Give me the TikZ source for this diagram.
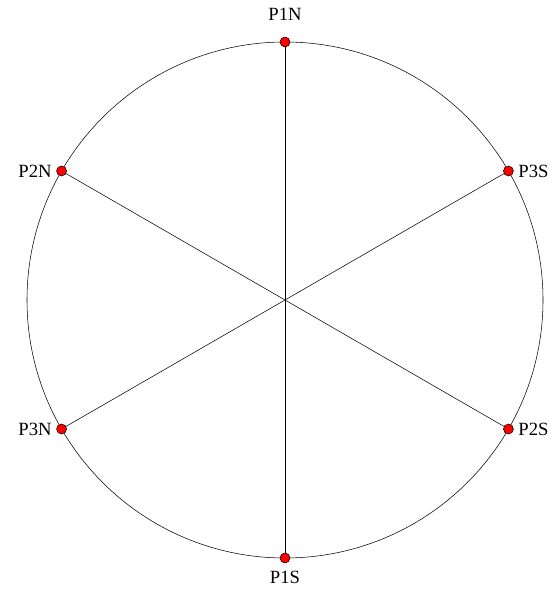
\documentclass[tikz,border=0pt]{standalone}
\usepackage{fontspec}
\setmainfont{Liberation Serif}
\usetikzlibrary{calc}

\tikzset{
    pole/.style={circle, draw, fill=red, inner sep=0pt, minimum size=7.5pt, thin},
    tag/.style={label distance=5pt}
}

\begin{document}
\begin{tikzpicture}[x=0.75pt,y=0.75pt,font=\fontsize{14pt}{16pt}\selectfont]
    \useasboundingbox (0,0) rectangle (559,595);
    \coordinate (o) at (285,295);

    \draw[thin] (o) circle (258);

    \coordinate (p1n) at ($(o)+(90:258)$);
    \coordinate (p1s) at ($(o)+(270:258)$);
    \coordinate (p2n) at ($(o)+(150:258)$);
    \coordinate (p2s) at ($(o)+(330:258)$);
    \coordinate (p3n) at ($(o)+(210:258)$);
    \coordinate (p3s) at ($(o)+(30:258)$);

    \draw[thin] (p1n) -- (p1s);
    \draw[thin] (p2n) -- (p2s);
    \draw[thin] (p3n) -- (p3s);

    \node[pole, tag, label={[label distance=9pt]above:P1N}] (P1N) at (p1n) {};
    \node[pole, tag, label={[label distance=2pt]below:P1S}] (P1S) at (p1s) {};
    \node[pole, tag, label=left:P2N]  (P2N) at (p2n) {};
    \node[pole, tag, label=right:P2S] (P2S) at (p2s) {};
    \node[pole, tag, label=left:P3N]  (P3N) at (p3n) {};
    \node[pole, tag, label=right:P3S] (P3S) at (p3s) {};
\end{tikzpicture}
\end{document}
